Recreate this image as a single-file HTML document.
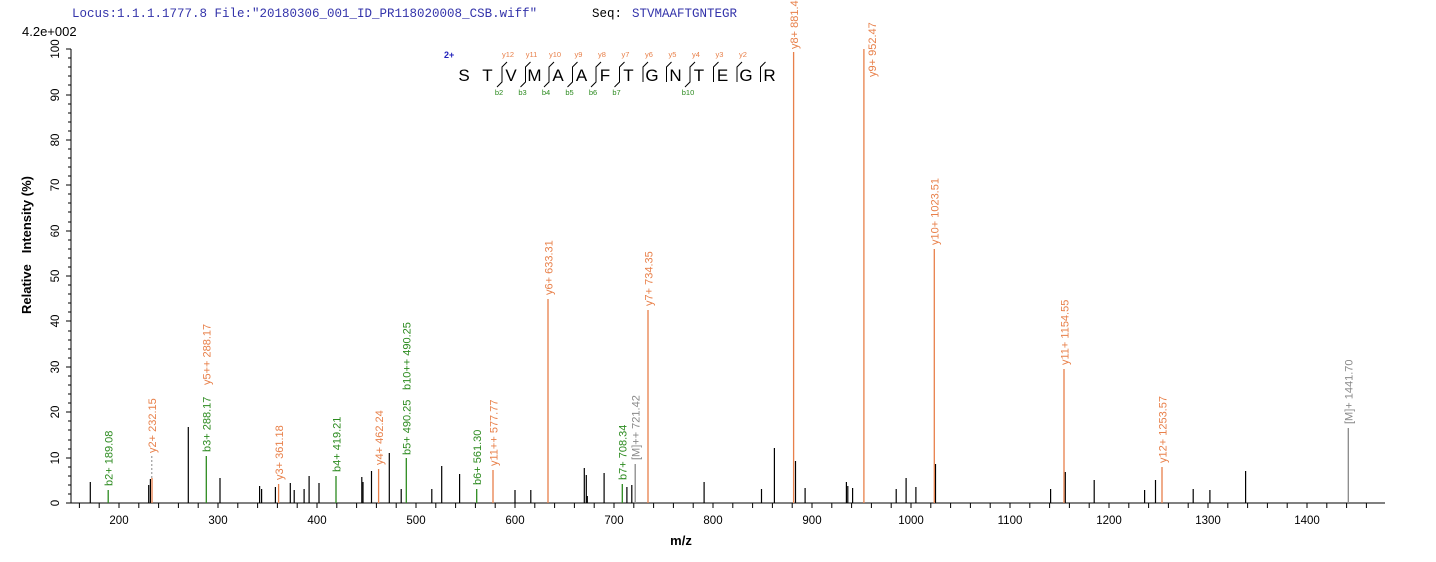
<!DOCTYPE html>
<html><head><meta charset="utf-8"><style>
html,body{margin:0;padding:0;background:#fff;}
svg{display:block;font-family:"Liberation Sans",Arial,sans-serif;}
.o{stroke:#e8804a;stroke-width:1.3}
.g{stroke:#2b8a1e;stroke-width:1.3}
.k{stroke:#000;stroke-width:1.2}
.gr{stroke:#888;stroke-width:1.3}
.lo{fill:#e8804a;font-size:11px}
.lg{fill:#2b8a1e;font-size:11px}
.lgr{fill:#888;font-size:11px}
</style></head><body>
<svg width="1436" height="562" viewBox="0 0 1436 562">
<text x="72" y="17" font-family="Liberation Mono,monospace" font-size="12.5" fill="#3333aa">Locus:1.1.1.1777.8 File:"20180306_001_ID_PR118020008_CSB.wiff"</text>
<text x="592" y="17" font-family="Liberation Mono,monospace" font-size="12.5" fill="#000">Seq:</text>
<text x="632" y="17" font-family="Liberation Mono,monospace" font-size="12.5" fill="#3333aa">STVMAAFTGNTEGR</text>
<text x="22" y="36" font-size="13">4.2e+002</text>

<!-- axes -->
<line x1="71" y1="49" x2="71" y2="503" stroke="#000"/>
<line x1="71" y1="503" x2="1385" y2="503" stroke="#000"/>
<g stroke="#000">
<line x1="66" y1="503" x2="71" y2="503"/><line x1="68" y1="494" x2="71" y2="494"/><line x1="68" y1="485" x2="71" y2="485"/><line x1="68" y1="476" x2="71" y2="476"/><line x1="68" y1="467" x2="71" y2="467"/>
<line x1="66" y1="458" x2="71" y2="458"/><line x1="68" y1="449" x2="71" y2="449"/><line x1="68" y1="440" x2="71" y2="440"/><line x1="68" y1="430" x2="71" y2="430"/><line x1="68" y1="421" x2="71" y2="421"/>
<line x1="66" y1="412" x2="71" y2="412"/><line x1="68" y1="403" x2="71" y2="403"/><line x1="68" y1="394" x2="71" y2="394"/><line x1="68" y1="385" x2="71" y2="385"/><line x1="68" y1="376" x2="71" y2="376"/>
<line x1="66" y1="367" x2="71" y2="367"/><line x1="68" y1="358" x2="71" y2="358"/><line x1="68" y1="349" x2="71" y2="349"/><line x1="68" y1="340" x2="71" y2="340"/><line x1="68" y1="331" x2="71" y2="331"/>
<line x1="66" y1="321" x2="71" y2="321"/><line x1="68" y1="312" x2="71" y2="312"/><line x1="68" y1="303" x2="71" y2="303"/><line x1="68" y1="294" x2="71" y2="294"/><line x1="68" y1="285" x2="71" y2="285"/>
<line x1="66" y1="276" x2="71" y2="276"/><line x1="68" y1="267" x2="71" y2="267"/><line x1="68" y1="258" x2="71" y2="258"/><line x1="68" y1="249" x2="71" y2="249"/><line x1="68" y1="240" x2="71" y2="240"/>
<line x1="66" y1="231" x2="71" y2="231"/><line x1="68" y1="222" x2="71" y2="222"/><line x1="68" y1="212" x2="71" y2="212"/><line x1="68" y1="203" x2="71" y2="203"/><line x1="68" y1="194" x2="71" y2="194"/>
<line x1="66" y1="185" x2="71" y2="185"/><line x1="68" y1="176" x2="71" y2="176"/><line x1="68" y1="167" x2="71" y2="167"/><line x1="68" y1="158" x2="71" y2="158"/><line x1="68" y1="149" x2="71" y2="149"/>
<line x1="66" y1="140" x2="71" y2="140"/><line x1="68" y1="131" x2="71" y2="131"/><line x1="68" y1="122" x2="71" y2="122"/><line x1="68" y1="113" x2="71" y2="113"/><line x1="68" y1="104" x2="71" y2="104"/>
<line x1="66" y1="95" x2="71" y2="95"/><line x1="68" y1="85" x2="71" y2="85"/><line x1="68" y1="76" x2="71" y2="76"/><line x1="68" y1="67" x2="71" y2="67"/><line x1="68" y1="58" x2="71" y2="58"/>
<line x1="66" y1="49" x2="71" y2="49"/>
</g>
<g font-size="11.5" text-anchor="middle">
<text transform="translate(59,503) rotate(-90)">0</text>
<text transform="translate(59,458) rotate(-90)">10</text>
<text transform="translate(59,412) rotate(-90)">20</text>
<text transform="translate(59,367) rotate(-90)">30</text>
<text transform="translate(59,321) rotate(-90)">40</text>
<text transform="translate(59,276) rotate(-90)">50</text>
<text transform="translate(59,231) rotate(-90)">60</text>
<text transform="translate(59,185) rotate(-90)">70</text>
<text transform="translate(59,140) rotate(-90)">80</text>
<text transform="translate(59,95) rotate(-90)">90</text>
<text transform="translate(59,49) rotate(-90)">100</text>
</g>
<text transform="translate(31,245) rotate(-90)" text-anchor="middle" font-weight="bold" font-size="13">Relative&#160;&#160;&#160;Intensity (%)</text>

<g stroke="#000">
<line x1="79.4" y1="503" x2="79.4" y2="508"/><line x1="99.2" y1="503" x2="99.2" y2="508"/><line x1="119" y1="503" x2="119" y2="508"/><line x1="138.8" y1="503" x2="138.8" y2="508"/><line x1="158.6" y1="503" x2="158.6" y2="508"/><line x1="178.4" y1="503" x2="178.4" y2="508"/><line x1="198.2" y1="503" x2="198.2" y2="508"/><line x1="218" y1="503" x2="218" y2="508"/><line x1="237.8" y1="503" x2="237.8" y2="508"/><line x1="257.6" y1="503" x2="257.6" y2="508"/><line x1="277.4" y1="503" x2="277.4" y2="508"/><line x1="297.2" y1="503" x2="297.2" y2="508"/><line x1="317" y1="503" x2="317" y2="508"/><line x1="336.8" y1="503" x2="336.8" y2="508"/><line x1="356.6" y1="503" x2="356.6" y2="508"/><line x1="376.4" y1="503" x2="376.4" y2="508"/><line x1="396.2" y1="503" x2="396.2" y2="508"/><line x1="416" y1="503" x2="416" y2="508"/><line x1="435.8" y1="503" x2="435.8" y2="508"/><line x1="455.6" y1="503" x2="455.6" y2="508"/><line x1="475.4" y1="503" x2="475.4" y2="508"/><line x1="495.2" y1="503" x2="495.2" y2="508"/><line x1="515" y1="503" x2="515" y2="508"/><line x1="534.8" y1="503" x2="534.8" y2="508"/><line x1="554.6" y1="503" x2="554.6" y2="508"/><line x1="574.4" y1="503" x2="574.4" y2="508"/><line x1="594.2" y1="503" x2="594.2" y2="508"/><line x1="614" y1="503" x2="614" y2="508"/><line x1="633.8" y1="503" x2="633.8" y2="508"/><line x1="653.6" y1="503" x2="653.6" y2="508"/><line x1="673.4" y1="503" x2="673.4" y2="508"/><line x1="693.2" y1="503" x2="693.2" y2="508"/><line x1="713" y1="503" x2="713" y2="508"/><line x1="732.8" y1="503" x2="732.8" y2="508"/><line x1="752.6" y1="503" x2="752.6" y2="508"/><line x1="772.4" y1="503" x2="772.4" y2="508"/><line x1="792.2" y1="503" x2="792.2" y2="508"/><line x1="812" y1="503" x2="812" y2="508"/><line x1="831.8" y1="503" x2="831.8" y2="508"/><line x1="851.6" y1="503" x2="851.6" y2="508"/><line x1="871.4" y1="503" x2="871.4" y2="508"/><line x1="891.2" y1="503" x2="891.2" y2="508"/><line x1="911" y1="503" x2="911" y2="508"/><line x1="930.8" y1="503" x2="930.8" y2="508"/><line x1="950.6" y1="503" x2="950.6" y2="508"/><line x1="970.4" y1="503" x2="970.4" y2="508"/><line x1="990.2" y1="503" x2="990.2" y2="508"/><line x1="1010" y1="503" x2="1010" y2="508"/><line x1="1029.8" y1="503" x2="1029.8" y2="508"/><line x1="1049.6" y1="503" x2="1049.6" y2="508"/><line x1="1069.4" y1="503" x2="1069.4" y2="508"/><line x1="1089.2" y1="503" x2="1089.2" y2="508"/><line x1="1109" y1="503" x2="1109" y2="508"/><line x1="1128.8" y1="503" x2="1128.8" y2="508"/><line x1="1148.6" y1="503" x2="1148.6" y2="508"/><line x1="1168.4" y1="503" x2="1168.4" y2="508"/><line x1="1188.2" y1="503" x2="1188.2" y2="508"/><line x1="1208" y1="503" x2="1208" y2="508"/><line x1="1227.8" y1="503" x2="1227.8" y2="508"/><line x1="1247.6" y1="503" x2="1247.6" y2="508"/><line x1="1267.4" y1="503" x2="1267.4" y2="508"/><line x1="1287.2" y1="503" x2="1287.2" y2="508"/><line x1="1307" y1="503" x2="1307" y2="508"/><line x1="1326.8" y1="503" x2="1326.8" y2="508"/><line x1="1346.6" y1="503" x2="1346.6" y2="508"/><line x1="1366.4" y1="503" x2="1366.4" y2="508"/>
</g>
<g font-size="11.5" text-anchor="middle">
<text x="119" y="524">200</text><text x="218" y="524">300</text><text x="317" y="524">400</text><text x="416" y="524">500</text><text x="515" y="524">600</text><text x="614" y="524">700</text><text x="713" y="524">800</text><text x="812" y="524">900</text><text x="911" y="524">1000</text><text x="1010" y="524">1100</text><text x="1109" y="524">1200</text><text x="1208" y="524">1300</text><text x="1307" y="524">1400</text>
</g>
<text x="681" y="545" text-anchor="middle" font-weight="bold" font-size="13">m/z</text>

<!-- black peaks -->
<g class="k">
<line x1="90.3" y1="503" x2="90.3" y2="482"/>
<line x1="148.7" y1="503" x2="148.7" y2="485"/>
<line x1="150.4" y1="503" x2="150.4" y2="479"/>
<line x1="188.3" y1="503" x2="188.3" y2="427"/>
<line x1="220" y1="503" x2="220" y2="478"/>
<line x1="259.6" y1="503" x2="259.6" y2="486"/>
<line x1="261.6" y1="503" x2="261.6" y2="489"/>
<line x1="275.4" y1="503" x2="275.4" y2="487"/>
<line x1="290.3" y1="503" x2="290.3" y2="483"/>
<line x1="294.2" y1="503" x2="294.2" y2="490"/>
<line x1="304.1" y1="503" x2="304.1" y2="489"/>
<line x1="309.1" y1="503" x2="309.1" y2="476"/>
<line x1="319" y1="503" x2="319" y2="483"/>
<line x1="361.8" y1="503" x2="361.8" y2="477"/>
<line x1="363" y1="503" x2="363" y2="482"/>
<line x1="371.5" y1="503" x2="371.5" y2="471"/>
<line x1="389.3" y1="503" x2="389.3" y2="453"/>
<line x1="401.2" y1="503" x2="401.2" y2="489"/>
<line x1="431.8" y1="503" x2="431.8" y2="489"/>
<line x1="441.7" y1="503" x2="441.7" y2="466"/>
<line x1="459.6" y1="503" x2="459.6" y2="474"/>
<line x1="515" y1="503" x2="515" y2="490"/>
<line x1="530.8" y1="503" x2="530.8" y2="490"/>
<line x1="584.3" y1="503" x2="584.3" y2="468"/>
<line x1="586.3" y1="503" x2="586.3" y2="475"/>
<line x1="587.3" y1="503" x2="587.3" y2="496"/>
<line x1="604.1" y1="503" x2="604.1" y2="473"/>
<line x1="626.9" y1="503" x2="626.9" y2="487"/>
<line x1="631.8" y1="503" x2="631.8" y2="485"/>
<line x1="704.1" y1="503" x2="704.1" y2="482"/>
<line x1="761.5" y1="503" x2="761.5" y2="489"/>
<line x1="774.4" y1="503" x2="774.4" y2="448"/>
<line x1="795.5" y1="503" x2="795.5" y2="461"/>
<line x1="805.1" y1="503" x2="805.1" y2="488"/>
<line x1="846.4" y1="503" x2="846.4" y2="482"/>
<line x1="847.8" y1="503" x2="847.8" y2="486"/>
<line x1="852.6" y1="503" x2="852.6" y2="488"/>
<line x1="896.2" y1="503" x2="896.2" y2="489"/>
<line x1="906.1" y1="503" x2="906.1" y2="478"/>
<line x1="915.9" y1="503" x2="915.9" y2="487"/>
<line x1="935.5" y1="503" x2="935.5" y2="464"/>
<line x1="1050.6" y1="503" x2="1050.6" y2="489"/>
<line x1="1065.3" y1="503" x2="1065.3" y2="472"/>
<line x1="1094.2" y1="503" x2="1094.2" y2="480"/>
<line x1="1144.6" y1="503" x2="1144.6" y2="490"/>
<line x1="1155.5" y1="503" x2="1155.5" y2="480"/>
<line x1="1193.2" y1="503" x2="1193.2" y2="489"/>
<line x1="1209.9" y1="503" x2="1209.9" y2="490"/>
<line x1="1245.6" y1="503" x2="1245.6" y2="471"/>
</g>

<!-- green peaks -->
<g class="g">
<line x1="108.2" y1="503" x2="108.2" y2="490"/>
<line x1="206.3" y1="503" x2="206.3" y2="456"/>
<line x1="336" y1="503" x2="336" y2="476"/>
<line x1="406.3" y1="503" x2="406.3" y2="458"/>
<line x1="476.7" y1="503" x2="476.7" y2="489"/>
<line x1="622.3" y1="503" x2="622.3" y2="484"/>
</g>
<g class="gr">
<line x1="635.2" y1="503" x2="635.2" y2="464"/>
<line x1="1348.3" y1="503" x2="1348.3" y2="428"/>
<line x1="151.8" y1="478" x2="151.8" y2="456" stroke-dasharray="2,2" stroke-width="1"/>
</g>
<g class="o">
<line x1="152" y1="503" x2="152" y2="478"/>
<line x1="278.6" y1="503" x2="278.6" y2="484"/>
<line x1="378.6" y1="503" x2="378.6" y2="469"/>
<line x1="493" y1="503" x2="493" y2="470"/>
<line x1="548" y1="503" x2="548" y2="299"/>
<line x1="648" y1="503" x2="648" y2="310"/>
<line x1="793.6" y1="503" x2="793.6" y2="52"/>
<line x1="863.9" y1="503" x2="863.9" y2="49"/>
<line x1="934.3" y1="503" x2="934.3" y2="249"/>
<line x1="1064" y1="503" x2="1064" y2="369"/>
<line x1="1162" y1="503" x2="1162" y2="467"/>
</g>

<!-- peak labels -->
<text class="lg" transform="translate(112.5,486) rotate(-90)">b2+ 189.08</text>
<text class="lo" transform="translate(156,453) rotate(-90)">y2+ 232.15</text>
<text class="lg" transform="translate(210.5,452) rotate(-90)">b3+ 288.17</text>
<text class="lo" transform="translate(210.5,385) rotate(-90)">y5++ 288.17</text>
<text class="lo" transform="translate(283,480) rotate(-90)">y3+ 361.18</text>
<text class="lg" transform="translate(340.5,472) rotate(-90)">b4+ 419.21</text>
<text class="lo" transform="translate(383,465) rotate(-90)">y4+ 462.24</text>
<text class="lg" transform="translate(410.5,455) rotate(-90)">b5+ 490.25</text>
<text class="lg" transform="translate(410.5,390) rotate(-90)">b10++ 490.25</text>
<text class="lg" transform="translate(481,485) rotate(-90)">b6+ 561.30</text>
<text class="lo" transform="translate(497.5,466) rotate(-90)">y11++ 577.77</text>
<text class="lo" transform="translate(552.5,295) rotate(-90)">y6+ 633.31</text>
<text class="lg" transform="translate(626.5,480) rotate(-90)">b7+ 708.34</text>
<text class="lgr" transform="translate(639.5,460) rotate(-90)">[M]++ 721.42</text>
<text class="lo" transform="translate(652.5,306) rotate(-90)">y7+ 734.35</text>
<text class="lo" transform="translate(798,49) rotate(-90)">y8+ 881.4</text>
<text class="lo" transform="translate(876,77) rotate(-90)">y9+ 952.47</text>
<text class="lo" transform="translate(938.5,245) rotate(-90)">y10+ 1023.51</text>
<text class="lo" transform="translate(1068.5,365) rotate(-90)">y11+ 1154.55</text>
<text class="lo" transform="translate(1166.5,463) rotate(-90)">y12+ 1253.57</text>
<text class="lgr" transform="translate(1352.5,424) rotate(-90)">[M]+ 1441.70</text>

<!-- sequence -->
<text x="444" y="58" font-size="9" font-weight="bold" fill="#2222bb">2+</text>
<g font-size="17" text-anchor="middle">
<text x="464" y="81">S</text><text x="487.5" y="81">T</text><text x="511" y="81">V</text><text x="534.5" y="81">M</text><text x="558" y="81">A</text><text x="581.5" y="81">A</text><text x="605" y="81">F</text><text x="628.5" y="81">T</text><text x="652" y="81">G</text><text x="675.5" y="81">N</text><text x="699" y="81">T</text><text x="722.5" y="81">E</text><text x="746" y="81">G</text><text x="769.5" y="81">R</text>
</g>
<g stroke="#000" stroke-width="1" fill="none">
<path d="M507,62 L502,67 L502,82 L497,87"/>
<path d="M530.5,62 L525.5,67 L525.5,82 L520.5,87"/>
<path d="M554,62 L549,67 L549,82 L544,87"/>
<path d="M577.5,62 L572.5,67 L572.5,82 L567.5,87"/>
<path d="M601,62 L596,67 L596,82 L591,87"/>
<path d="M624.5,62 L619.5,67 L619.5,82 L614.5,87"/>
<path d="M648,62 L643,67 L643,82"/>
<path d="M671.5,62 L666.5,67 L666.5,82"/>
<path d="M695,62 L690,67 L690,82 L685,87"/>
<path d="M718.5,62 L713.5,67 L713.5,82"/>
<path d="M742,62 L737,67 L737,82"/>
<path d="M765.5,62 L760.5,67 L760.5,82"/>
</g>
<g font-size="7.5" fill="#e8804a" text-anchor="middle">
<text x="508" y="57">y12</text><text x="531.5" y="57">y11</text><text x="555" y="57">y10</text><text x="578.5" y="57">y9</text><text x="602" y="57">y8</text><text x="625.5" y="57">y7</text><text x="649" y="57">y6</text><text x="672.5" y="57">y5</text><text x="696" y="57">y4</text><text x="719.5" y="57">y3</text><text x="743" y="57">y2</text>
</g>
<g font-size="7.5" fill="#2b8a1e" text-anchor="middle">
<text x="499" y="95">b2</text><text x="522.5" y="95">b3</text><text x="546" y="95">b4</text><text x="569.5" y="95">b5</text><text x="593" y="95">b6</text><text x="616.5" y="95">b7</text><text x="688" y="95">b10</text>
</g>
</svg>
</body></html>
